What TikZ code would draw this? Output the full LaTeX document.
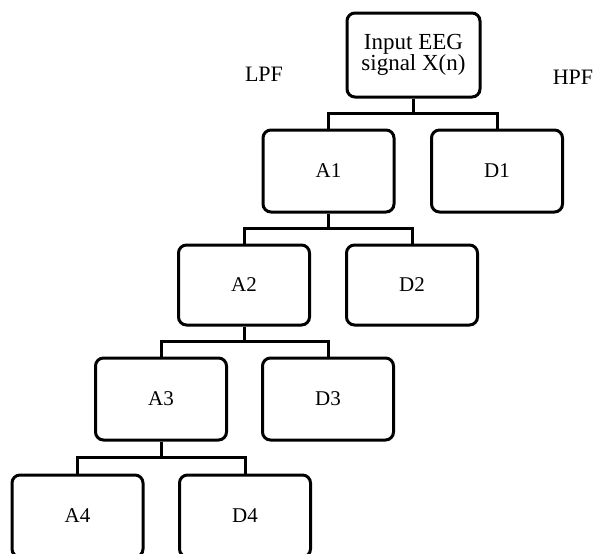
\documentclass[tikz,border=0pt]{standalone}
\usepackage{fontspec}
\setmainfont{Liberation Serif}
\usetikzlibrary{calc}
\begin{document}
\begin{tikzpicture}[x=1pt,y=1pt,
  blk/.style={draw=black, line width=3pt, rounded corners=8pt, minimum width=131pt, minimum height=82pt, align=center, inner sep=0pt, font=\fontsize{21}{20}\selectfont},
  conn/.style={draw=black, line width=3pt},
  lbl/.style={font=\fontsize{22}{24}\selectfont, inner sep=0pt}]
\useasboundingbox (0,0) rectangle (597,-554);
\node[blk, minimum width=133pt, minimum height=84pt, font=\fontsize{23}{21}\selectfont] (root) at (413.5,-55) {Input EEG\\signal X(n)};
\node[blk] (A1) at (328.5,-171) {A1};
\node[blk] (D1) at (497,-171) {D1};
\node[blk, minimum height=80pt] (A2) at (244,-285) {A2};
\node[blk, minimum height=80pt] (D2) at (412,-285) {D2};
\node[blk] (A3) at (161,-399) {A3};
\node[blk] (D3) at (328,-399) {D3};
\node[blk] (A4) at (77.5,-516) {A4};
\node[blk] (D4) at (245,-516) {D4};
\node[lbl] (lpf) at (264,-74) {LPF};
\node[lbl] (hpf) at (573,-77) {HPF};
\coordinate (j0) at ($(root.south)!0.5!(root.south|-A1.north)$);
\coordinate (j1) at ($(A1.south)!0.5!(A1.south|-A2.north)$);
\coordinate (j2) at ($(A2.south)!0.5!(A2.south|-A3.north)$);
\coordinate (j3) at ($(A3.south)!0.5!(A3.south|-A4.north)$);
\draw[conn] (root.south) -- (j0);
\draw[conn] (A1.north) |- (j0) -| (D1.north);
\draw[conn] (A1.south) -- (j1);
\draw[conn] (A2.north) |- (j1) -| (D2.north);
\draw[conn] (A2.south) -- (j2);
\draw[conn] (A3.north) |- (j2) -| (D3.north);
\draw[conn] (A3.south) -- (j3);
\draw[conn] (A4.north) |- (j3) -| (D4.north);
\end{tikzpicture}
\end{document}
